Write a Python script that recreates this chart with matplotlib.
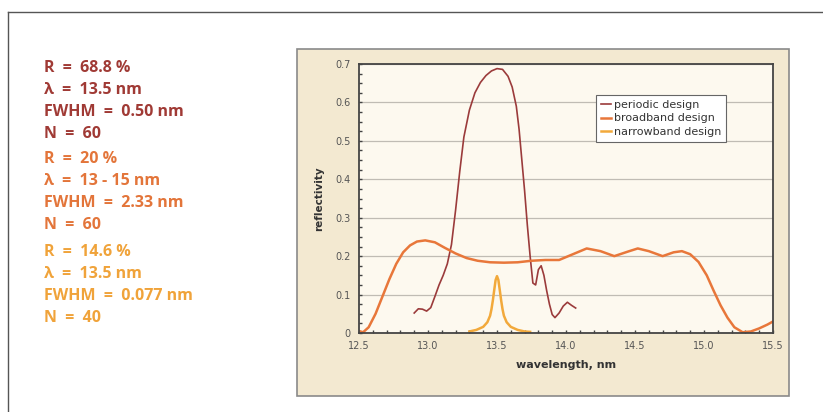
import numpy as np
import matplotlib
matplotlib.use("Agg")
import matplotlib.pyplot as plt
from matplotlib.patches import Rectangle
from matplotlib.lines import Line2D
from matplotlib.ticker import MultipleLocator

# --------------------------------------------------------------
# Data
# --------------------------------------------------------------
periodic_x = [12.90, 12.93, 12.96, 12.99, 13.02, 13.05, 13.08, 13.11, 13.14, 13.17,
              13.20, 13.23, 13.26, 13.30, 13.34, 13.38, 13.42, 13.46, 13.50, 13.54,
              13.58, 13.61, 13.64, 13.66, 13.68, 13.70, 13.72, 13.74, 13.76, 13.78,
              13.80, 13.82, 13.84, 13.86, 13.88, 13.90, 13.92, 13.95, 13.98, 14.01,
              14.04, 14.07]
periodic_y = [0.052, 0.063, 0.062, 0.057, 0.066, 0.095, 0.125, 0.150, 0.180, 0.230,
              0.320, 0.420, 0.510, 0.580, 0.625, 0.652, 0.670, 0.682, 0.688, 0.686,
              0.668, 0.640, 0.590, 0.530, 0.450, 0.370, 0.280, 0.200, 0.130, 0.125,
              0.165, 0.175, 0.150, 0.110, 0.075, 0.048, 0.040, 0.052, 0.070, 0.080,
              0.072, 0.065]

broad_x = [12.50, 12.53, 12.57, 12.62, 12.67, 12.72, 12.77, 12.82, 12.87, 12.92,
           12.98, 13.05, 13.12, 13.20, 13.28, 13.36, 13.45, 13.55, 13.65, 13.75,
           13.85, 13.95, 14.05, 14.15, 14.25, 14.35, 14.45, 14.52, 14.60, 14.70,
           14.78, 14.84, 14.90, 14.96, 15.02, 15.07, 15.12, 15.17, 15.22, 15.28,
           15.34, 15.40, 15.46, 15.50]
broad_y = [0.005, 0.002, 0.015, 0.050, 0.095, 0.140, 0.180, 0.210, 0.228, 0.238,
           0.241, 0.236, 0.222, 0.207, 0.195, 0.188, 0.184, 0.183, 0.184, 0.188,
           0.190, 0.190, 0.205, 0.220, 0.213, 0.200, 0.212, 0.220, 0.213, 0.200,
           0.210, 0.213, 0.205, 0.185, 0.150, 0.110, 0.072, 0.040, 0.015, 0.002,
           0.004, 0.012, 0.022, 0.030]

narrow_x = [13.30, 13.35, 13.40, 13.43, 13.45, 13.46, 13.47, 13.48, 13.49, 13.50,
            13.51, 13.52, 13.53, 13.54, 13.55, 13.57, 13.60, 13.65, 13.70, 13.74]
narrow_y = [0.004, 0.008, 0.016, 0.028, 0.045, 0.062, 0.085, 0.112, 0.138, 0.148,
            0.138, 0.112, 0.085, 0.062, 0.045, 0.028, 0.016, 0.008, 0.004, 0.003]

series_names = ["periodic design", "broadband design", "narrowband design"]
colors = ["#9b3b3b", "#e8773a", "#f2a93b"]
line_widths = [1.2, 1.8, 1.8]

info_blocks = [
    ["R  =  68.8 %", "λ  =  13.5 nm", "FWHM  =  0.50 nm", "N  =  60"],
    ["R  =  20 %", "λ  =  13 - 15 nm", "FWHM  =  2.33 nm", "N  =  60"],
    ["R  =  14.6 %", "λ  =  13.5 nm", "FWHM  =  0.077 nm", "N  =  40"],
]
text_colors = ["#a03a35", "#e3753a", "#f0a33a"]

x_ticks = [12.5, 13.0, 13.5, 14.0, 14.5, 15.0, 15.5]
y_ticks = [0, 0.1, 0.2, 0.3, 0.4, 0.5, 0.6, 0.7]

# --------------------------------------------------------------
# Figure
# --------------------------------------------------------------
W, H = 823, 412
fig = plt.figure(figsize=(W / 100, H / 100), dpi=100)
fig.patch.set_facecolor("white")

def px(x, y):
    return x / W, 1 - y / H

# outer frame lines (top and left)
fig.add_artist(Line2D([8 / W, 1], [1 - 12 / H, 1 - 12 / H], color="#555555", lw=1))
fig.add_artist(Line2D([8 / W, 8 / W], [0, 1 - 12 / H], color="#555555", lw=1))

# beige chart panel
x0, y0 = px(297, 396)
fig.add_artist(Rectangle((x0, y0), (789 - 297) / W, (396 - 49) / H,
                         transform=fig.transFigure, facecolor="#f3e9d1",
                         edgecolor="#8a8a8a", lw=1.2, zorder=0))

# text blocks on the left
line_y = [[68, 90, 112, 134], [159, 181, 203, 225], [252, 274, 296, 318]]
for block, ys, c in zip(info_blocks, line_y, text_colors):
    for s, yy in zip(block, ys):
        fig.text(44 / W, 1 - yy / H, s, color=c, fontsize=11.5, fontweight="bold",
                 family=["Open Sans", "DejaVu Sans"], va="center", ha="left")

# axes
l, b = px(359, 333)
ax = fig.add_axes([l, b, (773 - 359) / W, (333 - 64) / H])
ax.set_facecolor("#fdf9ef")

for xs, ys, name, c, lw in zip([periodic_x, broad_x, narrow_x],
                               [periodic_y, broad_y, narrow_y],
                               series_names, colors, line_widths):
    ax.plot(xs, ys, color=c, lw=lw, label=name)

ax.set_xlim(12.5, 15.5)
ax.set_ylim(0, 0.7)
ax.set_xticks(x_ticks)
ax.set_xticklabels([f"{v:.1f}" for v in x_ticks])
ax.set_yticks(y_ticks)
ax.set_yticklabels(["0"] + [f"{v:.1f}" for v in y_ticks[1:]])
ax.xaxis.set_minor_locator(MultipleLocator(0.1))
ax.yaxis.set_minor_locator(MultipleLocator(0.025))
ax.tick_params(which="both", direction="in", length=2, width=1, color="#444444",
               labelsize=7, labelcolor="#555555", pad=6)
ax.grid(axis="y", which="major", color="#c0bcb4", lw=0.9)
ax.set_axisbelow(True)
for sp in ax.spines.values():
    sp.set_color("#444444")
    sp.set_linewidth(1.3)

ax.set_xlabel("wavelength, nm", fontsize=8, fontweight="bold", color="#333333", labelpad=6)
ax.set_ylabel("reflectivity", fontsize=7.5, fontweight="bold", color="#333333", labelpad=8)

leg = ax.legend(loc="upper left", bbox_to_anchor=(0.56, 0.905), fontsize=8,
                handlelength=0.9, handletextpad=0.3, labelspacing=0.35,
                borderpad=0.4, fancybox=False, framealpha=1)
leg.get_frame().set_edgecolor("#666666")
leg.get_frame().set_linewidth(0.8)
for t in leg.get_texts():
    t.set_color("#333333")

fig.savefig("out.png", dpi=100)
